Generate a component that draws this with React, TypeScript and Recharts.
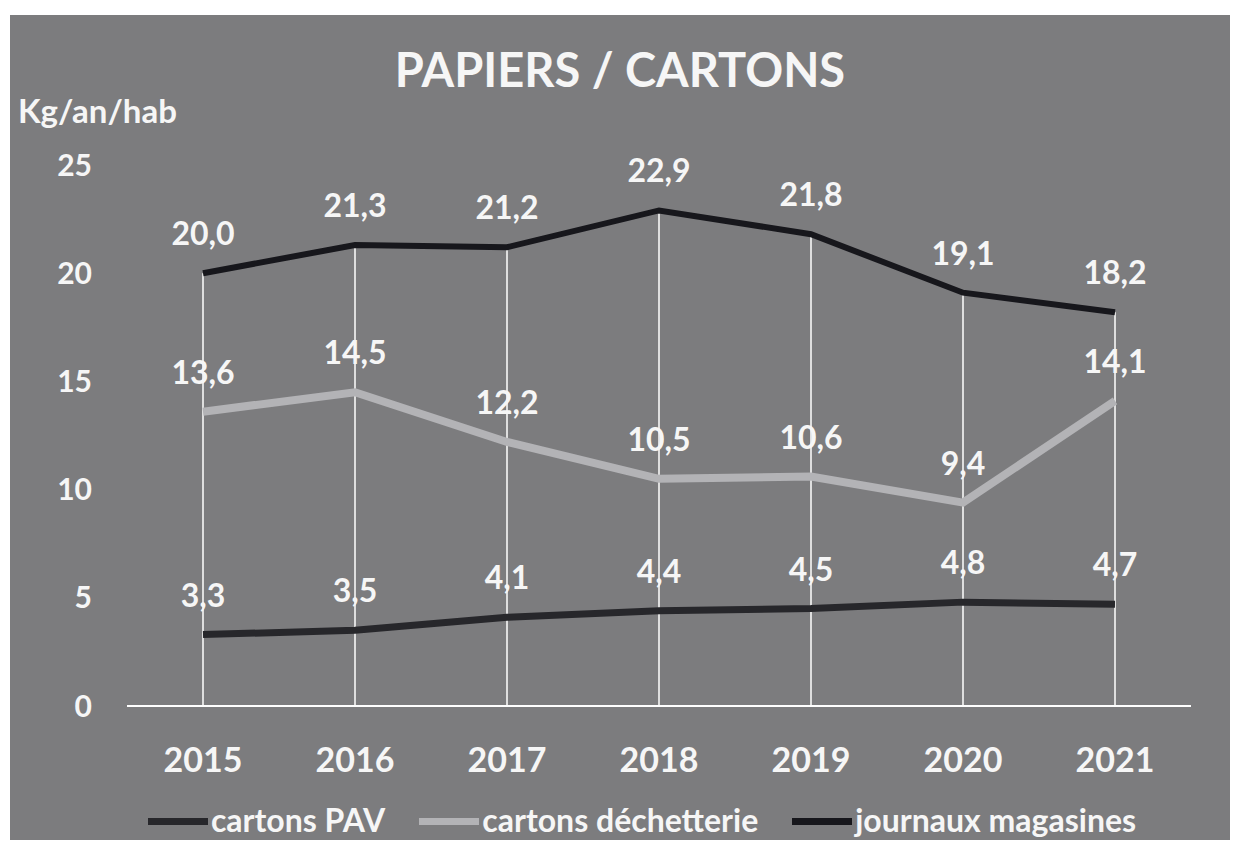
import React from 'react'
import { ComposedChart, Line, Bar, XAxis, YAxis, LabelList } from 'recharts'

const years = ['2015', '2016', '2017', '2018', '2019', '2020', '2021']
const cartonsPAV = [3.3, 3.5, 4.1, 4.4, 4.5, 4.8, 4.7]
const cartonsDechetterie = [13.6, 14.5, 12.2, 10.5, 10.6, 9.4, 14.1]
const journauxMagasines = [20.0, 21.3, 21.2, 22.9, 21.8, 19.1, 18.2]
const yTicks = [0, 5, 10, 15, 20, 25]

const FONT = 'Lato, "Open Sans", sans-serif'
const TEXT = '#f6f6f6'

const series = [
  { key: 'pav', name: 'cartons PAV', color: '#27272b', width: 7 },
  { key: 'dech', name: 'cartons déchetterie', color: '#b3b3b6', width: 8 },
  { key: 'journaux', name: 'journaux magasines', color: '#17171c', width: 6 },
]

const data = years.map((year, i) => ({
  year,
  pav: cartonsPAV[i],
  dech: cartonsDechetterie[i],
  journaux: journauxMagasines[i],
}))

const fmt = (v: number) => v.toFixed(1).replace('.', ',')

function LegendContent() {
  return (
    <div style={{ display: 'flex', justifyContent: 'center', alignItems: 'center', gap: 34, paddingLeft: 44 }}>
      {series.map(s => (
        <div key={s.key} style={{ display: 'flex', alignItems: 'center' }}>
          <div style={{ width: 60, height: 7, background: s.color, marginRight: 3, marginTop: 4 }} />
          <span style={{ color: TEXT, fontFamily: FONT, fontSize: 32, fontWeight: 700 }}>{s.name}</span>
        </div>
      ))}
    </div>
  )
}

export default function App() {
  return (
    <div style={{ position: 'absolute', left: 0, top: 0, width: 1239, height: 848, background: '#ffffff' }}>
      <div style={{ position: 'absolute', left: 10, top: 15, width: 1220, height: 825, background: '#7c7c7e' }}>
        <div style={{ position: 'absolute', left: 0, width: 1220, top: 26, textAlign: 'center', color: TEXT, fontFamily: FONT, fontWeight: 700, fontSize: 47 }}>
          PAPIERS / CARTONS
        </div>
        <div style={{ position: 'absolute', left: 8, top: 75, color: TEXT, fontFamily: FONT, fontSize: 33, fontWeight: 700 }}>
          Kg/an/hab
        </div>
        <ComposedChart
          width={1220}
          height={825}
          data={data}
          margin={{ top: 150, right: 39, bottom: 10, left: 0 }}
        >
          <XAxis
            dataKey="year"
            axisLine={{ stroke: '#ffffff', strokeWidth: 2 }}
            tickLine={false}
            tickSize={0}
            tickMargin={42}
            height={124}
            tick={{ fill: TEXT, fontFamily: FONT, fontSize: 34, fontWeight: 700 }}
          />
          <YAxis
            width={117}
            domain={[0, 25]}
            ticks={yTicks}
            axisLine={false}
            tickLine={false}
            tickSize={0}
            tickMargin={35}
            tick={{ fill: TEXT, fontFamily: FONT, fontSize: 30, fontWeight: 700 }}
          />
          <Bar dataKey="journaux" fill="#ffffff" fillOpacity={0.75} barSize={2} isAnimationActive={false} legendType="none" />
          {series.map(s => (
            <Line
              key={s.key}
              type="linear"
              dataKey={s.key}
              name={s.name}
              stroke={s.color}
              strokeWidth={s.width}
              dot={false}
              activeDot={false}
              isAnimationActive={false}
            >
              <LabelList
                dataKey={s.key}
                position="top"
                offset={28}
                formatter={(v: number) => fmt(v)}
                style={{ fill: TEXT, fontFamily: FONT, fontSize: 32, fontWeight: 700 }}
              />
            </Line>
          ))}
        </ComposedChart>
        <div style={{ position: 'absolute', left: 0, top: 785, width: 1220 }}>
          <LegendContent />
        </div>
      </div>
    </div>
  )
}
